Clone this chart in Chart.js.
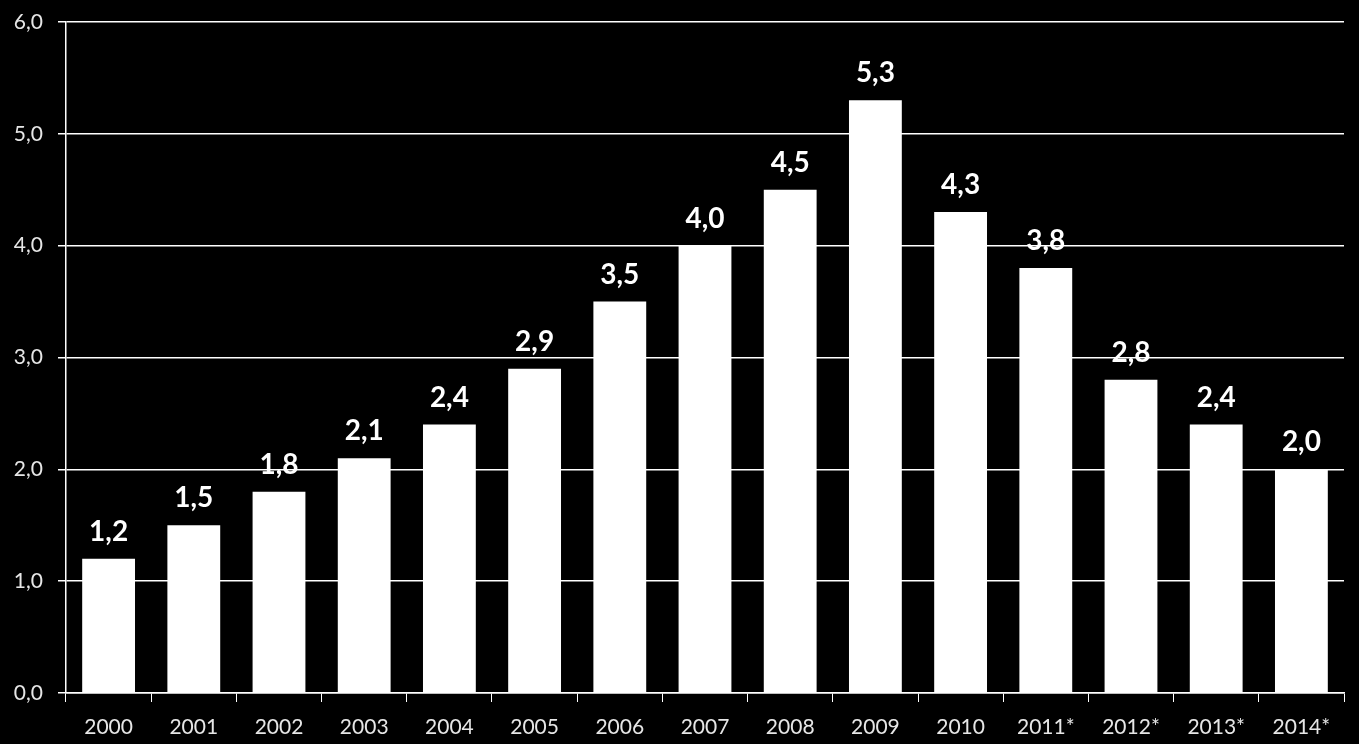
<!DOCTYPE html>
<html>
<head>
<meta charset="utf-8">
<script src="https://cdn.jsdelivr.net/npm/chart.js@4"></script>
<style>
  html, body { margin: 0; padding: 0; background: #000; }
  #wrap { width: 1359px; height: 744px; }
</style>
</head>
<body>
<div id="wrap"><canvas id="chart" width="1359" height="744"></canvas></div>
<script>
// Chart data
const years = ['2000', '2001', '2002', '2003', '2004', '2005', '2006', '2007',
  '2008', '2009', '2010', '2011*', '2012*', '2013*', '2014*'];
const values = [1.2, 1.5, 1.8, 2.1, 2.4, 2.9, 3.5, 4.0, 4.5, 5.3, 4.3, 3.8, 2.8, 2.4, 2.0];
const yTicks = [0, 1, 2, 3, 4, 5, 6];

const fmt = v => v.toFixed(1).replace('.', ',');

// Value labels above bars
const barLabels = {
  id: 'barLabels',
  afterDatasetsDraw(chart) {
    const ctx = chart.ctx;
    const meta = chart.getDatasetMeta(0);
    ctx.save();
    ctx.fillStyle = '#ffffff';
    ctx.font = 'bold 28px Lato, "Open Sans", sans-serif';
    ctx.textAlign = 'center';
    ctx.textBaseline = 'alphabetic';
    meta.data.forEach((bar, i) => {
      ctx.fillText(fmt(values[i]), bar.x, bar.y - 18);
    });
    ctx.restore();
  }
};

const ctx = document.getElementById('chart').getContext('2d');
new Chart(ctx, {
  type: 'bar',
  data: {
    labels: years,
    datasets: [{
      data: values,
      backgroundColor: '#ffffff',
      borderWidth: 0,
      barPercentage: 0.62,
      categoryPercentage: 1.0,
    }],
  },
  options: {
    responsive: false,
    animation: false,
    layout: {
      padding: { top: 22, right: 15, left: 0, bottom: 0 },
    },
    plugins: {
      legend: { display: false },
      tooltip: { enabled: false },
    },
    scales: {
      x: {
        grid: {
          display: true,
          drawOnChartArea: false,
          color: '#ffffff',
          tickLength: 9,
          offset: true,
        },
        border: { color: '#ffffff', width: 1.5 },
        ticks: {
          color: '#e6e6e6',
          font: { family: 'Lato, "Open Sans", sans-serif', size: 21 },
          padding: 13,
          maxRotation: 0,
        },
        afterFit(scale) {
          scale.height = 51;
          scale.paddingLeft = 0;
          scale.paddingRight = 0;
        },
      },
      y: {
        min: 0,
        max: 6,
        afterBuildTicks(scale) {
          scale.ticks = yTicks.map(v => ({ value: v }));
        },
        grid: {
          color: '#ffffff',
          lineWidth: 1.5,
          tickLength: 8,
        },
        border: { color: '#ffffff', width: 1.5 },
        ticks: {
          color: '#e6e6e6',
          font: { family: 'Lato, "Open Sans", sans-serif', size: 21 },
          padding: 15,
          callback: v => fmt(v),
        },
        afterFit(scale) {
          scale.width = 66;
          scale.paddingTop = 0;
          scale.paddingBottom = 0;
        },
      },
    },
  },
  plugins: [barLabels],
});
</script>
</body>
</html>
